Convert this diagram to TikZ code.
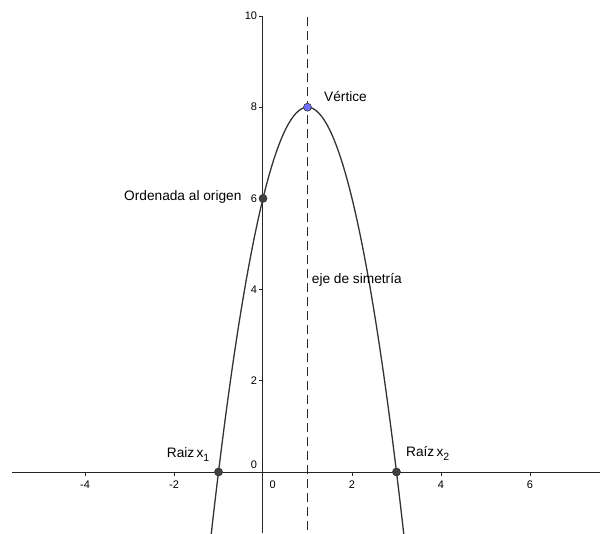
\documentclass[tikz,border=0pt]{standalone}
\usepackage{fontspec}
\setmainfont{Liberation Sans}
\definecolor{curvegray}{RGB}{51,51,51}
\definecolor{ptgray}{RGB}{64,64,64}
\definecolor{vertexblue}{RGB}{110,110,255}
\newcommand{\lowsub}[1]{\raisebox{-4pt}{\fontsize{10.5}{12}\selectfont #1}}

\begin{document}
\begin{tikzpicture}[
  x=44.5pt, y=45.6pt,
  axis/.style={line width=1pt, black!85},
  tickmark/.style={line width=0.8pt, black!85},
  ticklabel/.style={font=\fontsize{11}{13}\selectfont, inner sep=0pt},
  lbl/.style={font=\fontsize{13.7}{16}\selectfont, inner sep=0pt},
  pt/.style={circle, draw=black!80, fill=ptgray, inner sep=0pt, minimum size=8pt, line width=0.6pt},
  vtx/.style={pt, fill=vertexblue},
  curve/.style={line width=1.3pt, curvegray},
  symline/.style={line width=1pt, black!85, dash pattern=on 9pt off 5pt},
]
\useasboundingbox (-5.910,-1.338) rectangle (7.573,10.351);

% --- Axes and ticks ---
\coordinate (xleft) at (-5.64,0);
\coordinate (xright) at (7.573,0);
\coordinate (ytop) at (0,10);
\coordinate (ybot) at (0,-1.338);
\draw[axis] (xleft) -- (xright);
\draw[axis] (ytop) -- (ybot);
\foreach \x in {-4,-2,2,4,6}{
  \draw[tickmark] (\x,0) -- ++(0,-4pt);
  \node[ticklabel] (xl\x) at (\x,-0.285) {\x};
}
\foreach \y in {2,4,6,8,10}{
  \draw[tickmark] (0,\y) -- ++(-4pt,0);
  \node[ticklabel, anchor=east] (yl\y) at (-0.13,\y) {\y};
}
\node[ticklabel, anchor=east] (ylzero) at (-0.13,0.153) {0};
\node[ticklabel] (xlzero) at (0.218,-0.285) {0};

% --- Axis of symmetry and parabola ---
\coordinate (symtop) at (1,9.98);
\coordinate (symbot) at (1,-1.338);
\draw[symline] (symtop) -- (symbot);
\draw[curve] plot[domain=-1.165:3.165, samples=90, smooth] (\x,{-2*\x*\x+4*\x+6});

% --- Points ---
\node[pt] (root1) at (-1,0) {};
\node[pt] (root2) at (3,0) {};
\node[pt] (yint) at (0,6) {};
\node[vtx] (vertex) at (1,8) {};

% --- Labels ---
\node[lbl, anchor=base west] (vlabel) at (1.371,8.136) {Vértice};
\node[lbl, anchor=base east] (olabel) at (-0.479,5.965) {Ordenada al origen};
\node[lbl, anchor=base west] (slabel) at (1.094,4.14) {eje de simetría};
\node[lbl, anchor=base west] (r1label) at (-2.164,0.322) {Raiz\,x\lowsub{1}};
\node[lbl, anchor=base west] (r2label) at (3.213,0.35) {Raíz\,x\lowsub{2}};

\end{tikzpicture}
\end{document}
